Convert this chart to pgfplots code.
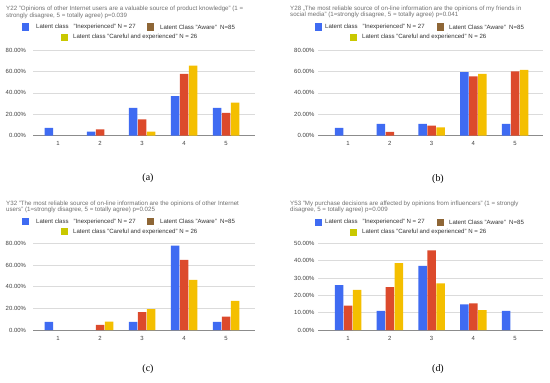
\documentclass[border=0pt]{standalone}
\usepackage{pgfplots}
\pgfplotsset{compat=1.18}
\usepackage{fontspec}
\setmainfont{Liberation Sans}
\newfontfamily\capfont{Liberation Serif}
\definecolor{cblue}{HTML}{3F6BF2}
\definecolor{cred}{HTML}{DC4A2C}
\definecolor{cyel}{HTML}{F4BF00}
\definecolor{lbrown}{HTML}{8E6636}
\definecolor{lyel}{HTML}{C9C800}
\definecolor{tgray}{HTML}{707070}
\pgfplotsset{panel/.style={
  scale only axis, ybar=0.5bp, bar width=8.5bp, ymin=0,
  axis x line*=bottom, axis y line*=left,
  y axis line style={draw=none}, x axis line style={draw=black!45, line width=0.7bp},
  tick style={draw=none}, major tick length=0pt,
  ymajorgrids, grid style={black!14, line width=0.5bp},
  xtick={1,2,3,4,5},
  /pgf/number format/assume math mode=true,
  ticklabel style={font=\fontsize{6}{7}\selectfont, text=black!75},
  xticklabel style={yshift=-2.5bp},
  clip=false,
}}
\newcommand{\ttl}[1]{{\fontsize{6.2}{7}\selectfont\color{tgray}#1}}
\newcommand{\lgd}[1]{{\fontsize{6.1}{7}\selectfont\color{black!80}#1}}
\begin{document}
\begin{tikzpicture}[x=1bp,y=1bp]
\path (0,0) rectangle (550,382);
% ---------- (a)
\begin{axis}[panel, at={(33bp,246.3bp)}, anchor=south west, width=222bp, height=85.7bp,
  xmin=0.405, xmax=5.69, ymax=80, ytick={0,20,40,60,80},
  yticklabels={0.00\%,20.00\%,40.00\%,60.00\%,80.00\%}, yticklabel style={xshift=-3.5bp}]
\addplot[fill=cblue, draw=none] coordinates {(1,7.4) (2,3.7) (3,25.9) (4,37.0) (5,25.9)};
\addplot[fill=cred, draw=none] coordinates {(2,5.9) (3,15.3) (4,57.6) (5,21.2)};
\addplot[fill=cyel, draw=none] coordinates {(3,3.85) (4,65.4) (5,30.8)};
\end{axis}
% ---------- (b)
\begin{axis}[panel, at={(318bp,246.3bp)}, anchor=south west, width=225bp, height=85.7bp,
  xmin=0.28, xmax=5.67, ymax=80, ytick={0,20,40,60,80},
  yticklabels={0.00\%,20.00\%,40.00\%,60.00\%,80.00\%}, yticklabel style={xshift=0bp}]
\addplot[fill=cblue, draw=none] coordinates {(1,7.4) (2,11.1) (3,11.1) (4,59.3) (5,11.1)};
\addplot[fill=cred, draw=none] coordinates {(2,3.5) (3,9.4) (4,55.3) (5,60.0)};
\addplot[fill=cyel, draw=none] coordinates {(3,7.7) (4,57.7) (5,61.5)};
\end{axis}
% ---------- (c)
\begin{axis}[panel, at={(33bp,52bp)}, anchor=south west, width=222bp, height=86.7bp,
  xmin=0.405, xmax=5.69, ymax=80, ytick={0,20,40,60,80},
  yticklabels={0.00\%,20.00\%,40.00\%,60.00\%,80.00\%}, yticklabel style={xshift=-3.5bp}]
\addplot[fill=cblue, draw=none] coordinates {(1,7.4) (3,7.4) (4,77.8) (5,7.4)};
\addplot[fill=cred, draw=none] coordinates {(2,4.7) (3,16.5) (4,64.7) (5,12.4)};
\addplot[fill=cyel, draw=none] coordinates {(2,7.7) (3,19.2) (4,46.2) (5,26.9)};
\end{axis}
% ---------- (d)
\begin{axis}[panel, at={(318bp,52bp)}, anchor=south west, width=225bp, height=86.7bp,
  xmin=0.28, xmax=5.67, ymax=50, ytick={0,10,20,30,40,50},
  yticklabels={0.00\%,10.00\%,20.00\%,30.00\%,40.00\%,50.00\%}, yticklabel style={xshift=0bp}]
\addplot[fill=cblue, draw=none] coordinates {(1,25.9) (2,11.1) (3,37.0) (4,14.8) (5,11.1)};
\addplot[fill=cred, draw=none] coordinates {(1,14.1) (2,24.7) (3,45.9) (4,15.3)};
\addplot[fill=cyel, draw=none] coordinates {(1,23.1) (2,38.5) (3,26.9) (4,11.5)};
\end{axis}
% ---------- titles
\node[anchor=west, inner sep=0] at (6,373) {\ttl{Y22 "Opinions of other Internet users are a valuable source of product knowledge" (1 =}};
\node[anchor=west, inner sep=0] at (6,366.5) {\ttl{strongly disagree, 5 = totally agree) p=0.039}};
\node[anchor=west, inner sep=0] at (290,373) {\ttl{Y28 „The most reliable source of on-line information are the opinions of my friends in}};
\node[anchor=west, inner sep=0] at (290,367) {\ttl{social media" (1=strongly disagree, 5 = totally agree) p=0.041}};
\node[anchor=west, inner sep=0] at (6,178.5) {\ttl{Y32 "The most reliable source of on-line information are the opinions of other Internet}};
\node[anchor=west, inner sep=0] at (6,172.5) {\ttl{users" (1=strongly disagree, 5 = totally agree) p=0.025}};
\node[anchor=west, inner sep=0] at (290,178.5) {\ttl{Y53 "My purchase decisions are affected by opinions from influencers" (1 = strongly}};
\node[anchor=west, inner sep=0] at (290,172.5) {\ttl{disagree, 5 = totally agree) p=0.009}};
% ---------- legends (a)
\fill[cblue] (21.5,351.5) rectangle +(7,7);
\node[anchor=west, inner sep=0] at (36,355) {\lgd{Latent class\ \ \ "Inexperienced" N = 27}};
\fill[lbrown] (146.5,351.5) rectangle +(7,7);
\node[anchor=west, inner sep=0] at (160,355) {\lgd{Latent Class "Aware"\ \ N=85}};
\fill[lyel] (60.5,341.5) rectangle +(7,7);
\node[anchor=west, inner sep=0] at (73,345) {\lgd{Latent class "Careful and experienced" N = 26}};
% (b)
\fill[cblue] (314.5,351.5) rectangle +(7,7);
\node[anchor=west, inner sep=0] at (325,355) {\lgd{Latent class\ \ \ "Inexperienced" N = 27}};
\fill[lbrown] (436.5,351.5) rectangle +(7,7);
\node[anchor=west, inner sep=0] at (449,355) {\lgd{Latent Class "Aware"\ \ N=85}};
\fill[lyel] (349.5,341.5) rectangle +(7,7);
\node[anchor=west, inner sep=0] at (362,345) {\lgd{Latent class "Careful and experienced" N = 26}};
% (c)
\fill[cblue] (21.5,156.8) rectangle +(7,7);
\node[anchor=west, inner sep=0] at (36,160.3) {\lgd{Latent class\ \ \ "Inexperienced" N = 27}};
\fill[lbrown] (146.5,156.8) rectangle +(7,7);
\node[anchor=west, inner sep=0] at (160,160.3) {\lgd{Latent Class "Aware"\ \ N=85}};
\fill[lyel] (60.5,146.8) rectangle +(7,7);
\node[anchor=west, inner sep=0] at (73,150.3) {\lgd{Latent class "Careful and experienced" N = 26}};
% (d)
\fill[cblue] (314.5,156.2) rectangle +(7,7);
\node[anchor=west, inner sep=0] at (325,159.7) {\lgd{Latent class\ \ \ "Inexperienced" N = 27}};
\fill[lbrown] (436.5,156.2) rectangle +(7,7);
\node[anchor=west, inner sep=0] at (449,159.7) {\lgd{Latent Class "Aware"\ \ N=85}};
\fill[lyel] (349.5,146.2) rectangle +(7,7);
\node[anchor=west, inner sep=0] at (362,149.7) {\lgd{Latent class "Careful and experienced" N = 26}};
% ---------- sub-captions
\node at (148,204) {\capfont\fontsize{10}{11}\selectfont (a)};
\node at (438,203) {\capfont\fontsize{10}{11}\selectfont (b)};
\node at (148,13) {\capfont\fontsize{10}{11}\selectfont (c)};
\node at (438,13) {\capfont\fontsize{10}{11}\selectfont (d)};
\end{tikzpicture}
\end{document}
